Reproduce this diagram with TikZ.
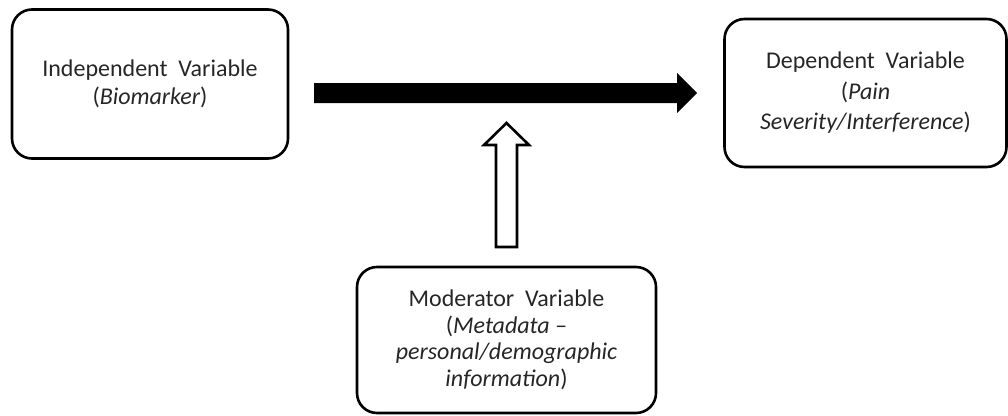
\documentclass[tikz,border=0pt]{standalone}
\usepackage{fontspec}
\setmainfont{Carlito}
\usetikzlibrary{calc}
\newcommand{\wsp}{\hspace{0.45em}}
\begin{document}
\begin{tikzpicture}[x=1pt,y=-1pt,
  box/.style={draw=black, line width=2.6pt, rounded corners=20pt, align=center,
    text=black!85, inner sep=0pt},
  arrowline/.style={line width=2.6pt, line join=miter}]
\useasboundingbox (0,0) rectangle (1008,415);
\node[box, minimum width=276pt, minimum height=149pt, font=\fontsize{24}{28}\selectfont] (iv) at (150,84)
  {Independent\wsp Variable\\(\textit{Biomarker})};
\node[box, minimum width=282pt, minimum height=148pt, font=\fontsize{24}{30.5}\selectfont] (dv) at (865.5,93)
  {Dependent\wsp Variable\\(\textit{Pain}\\\textit{Severity/Interference})};
\node[box, minimum width=299pt, minimum height=146pt, font=\fontsize{24}{26.5}\selectfont] (mv) at (506.5,340)
  {Moderator\wsp Variable\\(\textit{Metadata --}\\\textit{personal/demographic}\\\textit{information})};
% main effect arrow (solid)
\coordinate (a1s) at (314,93);
\coordinate (a1e) at (697,93);
\fill[black] ($(a1s)+(0,-10)$) -- (677,83) -- (677,73) -- (a1e) -- (677,113) -- (677,103) -- ($(a1s)+(0,10)$) -- cycle;
% moderator arrow (hollow)
\coordinate (a2s) at (506.5,247);
\coordinate (a2e) at (506.5,123);
\draw[arrowline, fill=white] (496,247) -- (496,145) -- (484,145) -- (a2e) -- (529,145) -- (517,145) -- (517,247) -- cycle;
\end{tikzpicture}
\end{document}
